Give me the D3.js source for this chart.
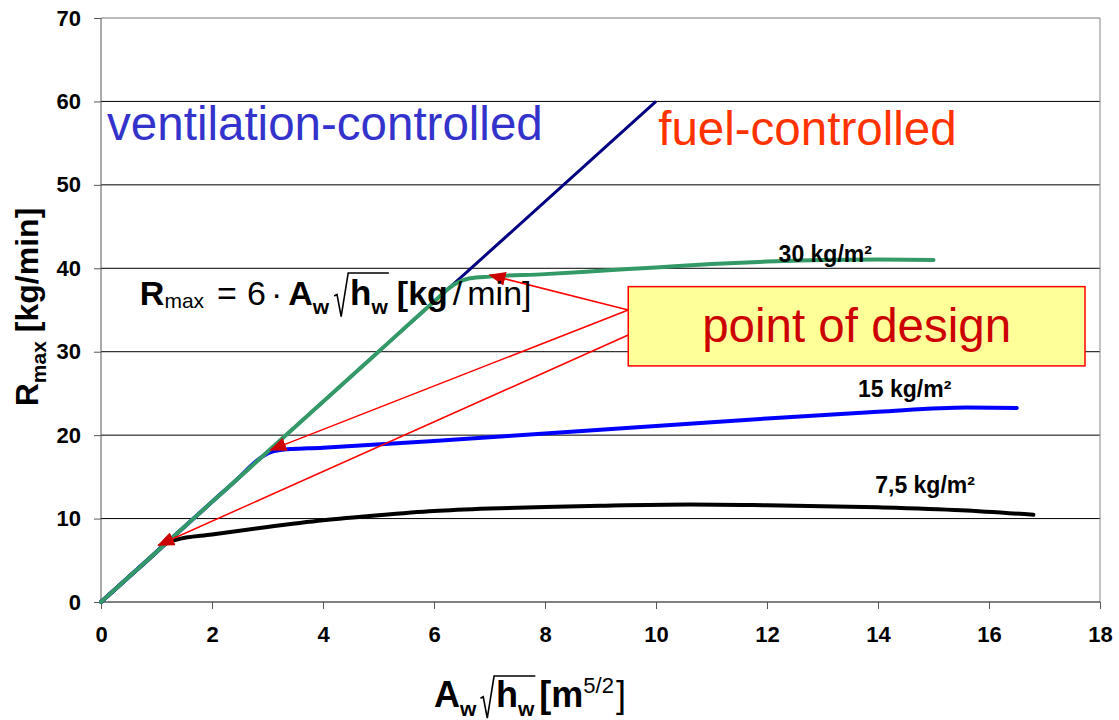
<!DOCTYPE html>
<html lang="en">
<head>
<meta charset="utf-8">
<title>Rmax design chart</title>
<script src="https://d3js.org/d3.v7.min.js"></script>
<style>
  body { margin: 0; background: #fff; }
  text { font-family: Arial, "Liberation Sans", sans-serif; }
</style>
</head>
<body>
<div id="chart"></div>
<script>
// axis ticks
const xTicks = [0, 2, 4, 6, 8, 10, 12, 14, 16, 18];
const yTicks = [0, 10, 20, 30, 40, 50, 60, 70];

// ventilation-controlled limit, R = 6 * Aw*sqrt(hw)
const ventLine = [[0, 0], [10, 60]];

// fire load curves
const load30 = [[0, 0], [1, 6], [2, 12], [3, 18], [4, 24], [5, 30], [6, 36], [6.35, 38.0], [6.65, 38.8],
  [7, 39.0], [8, 39.3], [9, 39.7], [10, 40.1], [11, 40.5], [12, 40.8], [13, 41.0], [14, 41.05], [15, 41.0]];
const load15 = [[0, 0], [1, 6], [2, 12], [2.5, 15], [2.8, 16.9], [3.0, 17.8], [3.2, 18.2], [4, 18.5],
  [6, 19.3], [8, 20.2], [10, 21.1], [12, 22.0], [14, 22.8], [15.6, 23.3], [16.5, 23.25]];
const load75 = [[0, 0], [0.5, 3], [1.0, 6], [1.15, 6.95], [1.35, 7.45], [2, 8.1], [3, 9.0], [4, 9.8],
  [5, 10.4], [6, 10.9], [7, 11.2], [8, 11.4], [9, 11.55], [10.6, 11.7], [12, 11.6], [14, 11.35],
  [15.5, 11.0], [16.8, 10.45]];

const seriesNames = ["7,5 kg/m²", "15 kg/m²", "30 kg/m²"];
const seriesLabelPos = [[13.95, 13.1], [13.64, 24.6], [13.05, 40.75]];

// "point of design" box and arrows (data units)
const boxX = [9.5, 17.73], boxY = [37.8, 28.3];
const arrowFrom = [[9.5, 35.0], [9.5, 35.0], [9.5, 32.0]];
const arrowTo = [[7.0, 39.2], [3.05, 18.2], [1.03, 6.8]];

const width = 1119, height = 720;
const margin = {top: 18, right: 19, bottom: 118, left: 101};

const svg = d3.select("#chart").append("svg")
  .attr("width", width).attr("height", height);

const x = d3.scaleLinear().domain([0, 18]).range([margin.left, width - margin.right]);
const y = d3.scaleLinear().domain([0, 70]).range([height - margin.bottom, margin.top]);

// gridlines
svg.append("g").selectAll("line")
  .data(yTicks.filter(d => d > 0 && d < 70))
  .join("line")
  .attr("x1", x(0)).attr("x2", x(18))
  .attr("y1", d => y(d)).attr("y2", d => y(d))
  .attr("stroke", "#000").attr("stroke-width", 1);

// plot frame
svg.append("line").attr("x1", x(0)).attr("x2", x(18)).attr("y1", y(70)).attr("y2", y(70)).attr("stroke", "#777");
svg.append("line").attr("x1", x(18)).attr("x2", x(18)).attr("y1", y(70)).attr("y2", y(0)).attr("stroke", "#888");
svg.append("line").attr("x1", x(0)).attr("x2", x(0)).attr("y1", y(70)).attr("y2", y(0)).attr("stroke", "#555");
svg.append("line").attr("x1", x(0)).attr("x2", x(18)).attr("y1", y(0)).attr("y2", y(0)).attr("stroke", "#000");

// axes
const yAxis = svg.append("g")
  .attr("transform", `translate(${x(0)},0)`)
  .call(d3.axisLeft(y).tickValues(yTicks).tickSize(7).tickPadding(13));
const xAxis = svg.append("g")
  .attr("transform", `translate(0,${y(0)})`)
  .call(d3.axisBottom(x).tickValues(xTicks).tickSize(7).tickPadding(17));
[xAxis, yAxis].forEach(a => {
  a.select(".domain").remove();
  a.selectAll(".tick line").attr("stroke", "#555");
  a.selectAll("text")
    .attr("fill", "#000")
    .style("font-family", "Arial, 'Liberation Sans', sans-serif")
    .style("font-size", "22px")
    .style("font-weight", "bold");
});

// lines
const line = d3.line().x(d => x(d[0])).y(d => y(d[1]));
const smooth = d3.line().x(d => x(d[0])).y(d => y(d[1])).curve(d3.curveMonotoneX);

svg.append("path").datum(ventLine).attr("d", line)
  .attr("fill", "none").attr("stroke", "#000080").attr("stroke-width", 3);
svg.append("path").datum(load75).attr("d", smooth)
  .attr("fill", "none").attr("stroke", "#000").attr("stroke-width", 4).attr("stroke-linecap", "round");
svg.append("path").datum(load15).attr("d", smooth)
  .attr("fill", "none").attr("stroke", "#0000ff").attr("stroke-width", 4).attr("stroke-linecap", "round");
svg.append("path").datum(load30).attr("d", smooth)
  .attr("fill", "none").attr("stroke", "#339966").attr("stroke-width", 4).attr("stroke-linecap", "round");

// series labels
svg.append("g").selectAll("text")
  .data(seriesNames)
  .join("text")
  .attr("x", (d, i) => x(seriesLabelPos[i][0]))
  .attr("y", (d, i) => y(seriesLabelPos[i][1]))
  .attr("text-anchor", (d, i) => i === 2 ? "middle" : "start")
  .style("font-size", "23px").style("font-weight", "bold")
  .text(d => d);

// region labels
svg.append("text").attr("x", x(0.11)).attr("y", y(55.4))
  .attr("fill", "#3333cc").style("font-size", "47.5px").text("ventilation-controlled");
svg.append("text").attr("x", x(10.04)).attr("y", y(54.8))
  .attr("fill", "#ff3300").style("font-size", "47.5px").text("fuel-controlled");

// arrows
svg.append("defs").append("marker")
  .attr("id", "head").attr("viewBox", "0 0 17 14")
  .attr("refX", 16).attr("refY", 7)
  .attr("markerWidth", 17).attr("markerHeight", 14)
  .attr("markerUnits", "userSpaceOnUse")
  .attr("orient", "auto")
  .append("path").attr("d", "M0,0 L17,7 L0,14 Z").attr("fill", "#cc0000");

svg.append("g").selectAll("line")
  .data(arrowTo)
  .join("line")
  .attr("x1", (d, i) => x(arrowFrom[i][0])).attr("y1", (d, i) => y(arrowFrom[i][1]))
  .attr("x2", d => x(d[0])).attr("y2", d => y(d[1]))
  .attr("stroke", "#ff0000").attr("stroke-width", 1.5)
  .attr("marker-end", "url(#head)");

// point of design box
svg.append("rect")
  .attr("x", x(boxX[0])).attr("y", y(boxY[0]))
  .attr("width", x(boxX[1]) - x(boxX[0])).attr("height", y(boxY[1]) - y(boxY[0]))
  .attr("fill", "#ffff99").attr("stroke", "#ff0000").attr("stroke-width", 1.5);
svg.append("text")
  .attr("x", (x(boxX[0]) + x(boxX[1])) / 2).attr("y", y(boxY[1]) - 24)
  .attr("text-anchor", "middle").attr("fill", "#cc0000")
  .style("font-size", "47.5px").text("point of design");

// lays out a row of text pieces, with optional square-root sign
function layout(g, pieces, x0, y0) {
  let cx = x0, radX = null, radS = 0;
  pieces.forEach(p => {
    if (p.gap) { cx += p.gap; return; }
    if (p.radStart) { radX = cx; radS = p.radStart; cx += 0.5 * radS; return; }
    if (p.radEnd) {
      const s = radS;
      g.append("path")
        .attr("d", `M${radX},${y0 - 0.28 * s} L${radX + 0.09 * s},${y0 - 0.33 * s} L${radX + 0.22 * s},${y0 + 0.36 * s}
          L${radX + 0.44 * s},${y0 - 1.0 * s} H${cx + 1}`)
        .attr("fill", "none").attr("stroke", "#000").attr("stroke-width", 1.6);
      return;
    }
    const t = g.append("text")
      .attr("x", cx).attr("y", y0 + (p.dy || 0))
      .style("font-size", p.s + "px")
      .style("font-weight", p.b ? "bold" : "normal")
      .text(p.t);
    cx += t.node().getComputedTextLength();
  });
  return cx - x0;
}

// formula
layout(svg.append("g"), [
  {t: "R", s: 34, b: true},
  {t: "max", s: 21, dy: 3},
  {gap: 13},
  {t: "=", s: 34},
  {gap: 10},
  {t: "6", s: 34},
  {gap: 5},
  {t: "·", s: 34},
  {gap: 6},
  {t: "A", s: 34, b: true},
  {t: "w", s: 21, b: true, dy: 9},
  {gap: 5},
  {radStart: 32},
  {t: "h", s: 35, b: true},
  {t: "w", s: 21, b: true, dy: 9},
  {radEnd: true},
  {gap: 9},
  {t: "[kg", s: 34, b: true},
  {gap: 5},
  {t: "/", s: 34},
  {gap: 5},
  {t: "min]", s: 34}
], x(0.70), y(35.6));

// x axis title
const xt = svg.append("g");
const xw = layout(xt, [
  {t: "A", s: 36, b: true},
  {t: "w", s: 21, b: true, dy: 9},
  {gap: 4},
  {radStart: 31},
  {t: "h", s: 36, b: true},
  {t: "w", s: 21, b: true, dy: 9},
  {radEnd: true},
  {gap: 5},
  {t: "[m", s: 36, b: true},
  {t: "5/2", s: 22, dy: -14},
  {gap: 2},
  {t: "]", s: 36}
], 0, 0);
xt.attr("transform", `translate(${530 - xw / 2},707)`);

// y axis title
const yt = svg.append("g");
const yw = layout(yt, [
  {t: "R", s: 32, b: true},
  {t: "max", s: 21, b: true, dy: 8},
  {gap: 9},
  {t: "[kg/min]", s: 32, b: true}
], 0, 0);
yt.attr("transform", `translate(38,307) rotate(-90) translate(${-yw / 2},0)`);
</script>
</body>
</html>
